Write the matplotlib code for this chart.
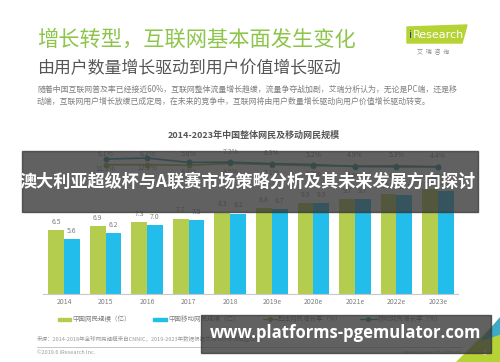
import matplotlib.pyplot as plt
from matplotlib.patches import Rectangle, Polygon
from matplotlib.lines import Line2D

plt.rcParams['font.family'] = ['Noto Sans CJK SC', 'DejaVu Sans']

# chart data
years = ['2014', '2015', '2016', '2017', '2018', '2019e', '2020e', '2021e', '2022e', '2023e']
netizens = [6.5, 6.9, 7.3, 7.7, 8.3, 8.8, 9.3, 9.7, 10.2, 10.7]          # 中国网民规模（亿）
mobile_netizens = [5.6, 6.2, 7.0, 7.5, 8.2, 8.7, 9.3, 9.7, 10.1, 10.5]   # 中国移动网民规模（亿）
rate_years = years[1:]
total_rate = [6.1, 6.2, 5.6, 7.3, 6.3, 5.2, 4.9, 5.3, 4.4]               # 整体网民增长率（%）
mobile_rate = [11.3, 12.2, 8.2, 8.5, 7.1, 6.3, 4.5, 4.3, 4.2]            # 移动网民增长率（%）

GREEN = '#b5cd4f'
BLUE = '#22bdeb'
OLIVE = '#98a83c'
TEAL = '#238c9a'
W, H = 500, 362

fig = plt.figure(figsize=(5, 3.62), dpi=100)
fig.patch.set_facecolor('white')

def frac(x0, y0, x1, y1):
    # pixel box (top-left origin) -> figure fraction rect
    return [x0 / W, 1 - y1 / H, (x1 - x0) / W, (y1 - y0) / H]

# bars
ax = fig.add_axes(frac(43, 130, 458, 294))
xs = list(range(len(years)))
bw = 0.38
ax.bar([x - bw / 2 for x in xs], netizens, width=bw, color=GREEN)
ax.bar([x + bw / 2 for x in xs], mobile_netizens, width=bw, color=BLUE)
for x, a, b in zip(xs, netizens, mobile_netizens):
    ax.annotate(f'{a}', (x - bw / 2, a), xytext=(0, 3), textcoords='offset points',
                ha='center', va='bottom', fontsize=5, color='#7f7f7f')
    ax.annotate(f'{b}', (x + bw / 2, b), xytext=(0, 3), textcoords='offset points',
                ha='center', va='bottom', fontsize=5, color='#7f7f7f')
ax.set_xlim(-0.505, 9.48)
ax.set_ylim(0, 16.73)
ax.set_xticks(xs)
ax.set_xticklabels(years, fontsize=5, color='#7f7f7f')
ax.tick_params(axis='x', length=0, pad=3)
ax.set_yticks([])
for s in ['top', 'right', 'left']:
    ax.spines[s].set_visible(False)
ax.spines['bottom'].set_color('#c8c8c8')
ax.spines['bottom'].set_linewidth(0.8)

# growth rate lines
lx = fig.add_axes(frac(43, 140, 458, 180))
lx.patch.set_alpha(0)
rx = xs[1:]
lx.plot(rx, total_rate, color=OLIVE, lw=1.2, marker='o', ms=3.2)
lx.plot(rx, mobile_rate, color=TEAL, lw=1.2, marker='o', ms=3.2)
for x, t, m in zip(rx, total_rate, mobile_rate):
    lx.annotate(f'{t}%', (x, t), xytext=(0, 8), textcoords='offset points',
                ha='center', va='center', fontsize=5, color='#7f7f7f')
    lx.annotate(f'{m}%', (x, m), xytext=(0, -7), textcoords='offset points',
                ha='center', va='center', fontsize=5, color='#7f7f7f')
lx.set_xlim(-0.505, 9.48)
lx.set_ylim(-7.73, 28.6)
lx.axis('off')

# slide decoration in pixel coordinates
d = fig.add_axes([0, 0, 1, 1], zorder=10)
d.set_xlim(0, W)
d.set_ylim(H, 0)
d.axis('off')
d.patch.set_alpha(0)

d.text(37, 40, '增长转型，互联网基本面发生变化', fontsize=15.3, color='#8dc54b', va='center')
d.text(37, 68, '由用户数量增长驱动到用户价值增长驱动', fontsize=12.2, color='#555555', va='center')
d.text(37, 89, '随着中国互联网普及率已经接近60%，互联网整体流量增长趋缓，流量争夺战加剧，艾瑞分析认为，无论是PC端，还是移',
       fontsize=5.7, color='#7f7f7f', va='center')
d.text(37, 101, '动端，互联网用户增长放缓已成定局，在未来的竞争中，互联网将由用户数量增长驱动向用户价值增长驱动转变。',
       fontsize=5.7, color='#7f7f7f', va='center')

# logo
d.add_patch(Polygon([(407, 27), (467, 25), (462, 43), (407, 43)], closed=True, color='#b5d334'))
d.text(409, 35, 'i', fontsize=8, color='#1f4e79', va='center', family='DejaVu Sans')
d.text(412.5, 35, 'Research', fontsize=8, color='white', va='center', family='DejaVu Sans')
d.text(433, 52, '艾  瑞  咨  询', fontsize=4.3, color='#8a8a8a', ha='center', va='center')

d.text(253.5, 135, '2014-2023年中国整体网民及移动网民规模', fontsize=6.5, fontweight='bold',
       color='#555555', ha='center', va='center')

# legend
d.add_patch(Rectangle((58, 317.5), 13, 3.5, color=GREEN))
d.text(72, 319, '中国网民规模（亿）', fontsize=4.7, color='#7f7f7f', va='center')
d.add_patch(Rectangle((153, 317.5), 14, 3.5, color=BLUE))
d.text(168, 319, '中国移动网民规模（亿）', fontsize=4.7, color='#7f7f7f', va='center')
d.add_line(Line2D([263, 270, 277], [319, 319, 319], color=OLIVE, lw=1, marker='o', ms=2.5, markevery=[1]))
d.text(278, 319, '整体网民增长率（%）', fontsize=4.7, color='#7f7f7f', va='center')
d.add_line(Line2D([360, 368, 377], [319, 319, 319], color=TEAL, lw=1, marker='o', ms=2.5, markevery=[1]))
d.text(378, 319, '移动网民增长率（%）', fontsize=4.7, color='#7f7f7f', va='center')

# footer
d.text(37, 339, '来源：2014-2018年全球网民规模来自CNNIC，2019-2023年数据根据艾瑞统计预测模型估算。',
       fontsize=4, color='#9a9a9a', va='center')
d.plot([37, 462], [347, 347], color='#bdbdbd', lw=0.6)
d.text(37, 353, '©2019.6 iResearch Inc.', fontsize=4, color='#9a9a9a', va='center')
d.text(462, 353, 'www.iresearch.com.cn', fontsize=4, color='#9a9a9a', va='center', ha='right')
d.add_patch(Polygon([(500, 318), (500, 362), (456, 362)], closed=True, color='#b5d334'))
d.add_patch(Polygon([(500, 318), (500, 334), (482, 340)], closed=True, color='#3fa9c9'))
d.text(485, 353, '5', fontsize=5, color='white', va='center', ha='center')

# overlays on top of the slide
d.add_patch(Rectangle((22, 151), 456, 61, color='#3a3a3a', alpha=0.8, zorder=20))
d.text(248, 182, '澳大利亚超级杯与A联赛市场策略分析及其未来发展方向探讨', fontsize=12.3,
       fontweight='bold', color='white', ha='center', va='center', zorder=21)
d.add_patch(Rectangle((201, 315), 290, 38, color='#3a3a3a', alpha=0.8, zorder=20))
d.text(346, 333, 'www.platforms-pgemulator.com', fontsize=12, fontweight='bold',
       color='white', ha='center', va='center', family='Open Sans', zorder=21)

fig.savefig('out.png', dpi=100)
